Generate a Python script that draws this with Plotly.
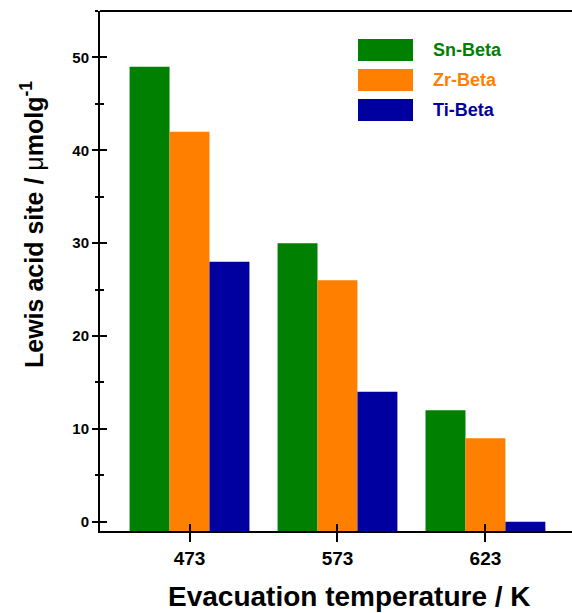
import plotly.graph_objects as go

# Evacuation temperatures (K) and Lewis acid site amounts (umol/g)
temperatures = ["473", "573", "623"]
sn_beta = [49, 30, 12]
zr_beta = [42, 26, 9]
ti_beta = [28, 14, 0]

series_names = ["Sn-Beta", "Zr-Beta", "Ti-Beta"]
series_values = [sn_beta, zr_beta, ti_beta]
series_colors = ["#008000", "#FF8000", "#0000A0"]

Y_MIN, Y_MAX = -1.0, 55.0
X_RANGE = [-0.605, 2.585]

W, H = 572, 613
M_L, M_R, M_T, M_B = 100, 0, 11, 82
PW, PH = W - M_L - M_R, H - M_T - M_B


def px_x(px):
    return (px - M_L) / PW


def px_y(py):
    return (H - M_B - py) / PH


FONT = "Liberation Sans, Arial, sans-serif"

fig = go.Figure()
for name, vals, col in zip(series_names, series_values, series_colors):
    fig.add_trace(go.Bar(
        x=temperatures,
        y=[v - Y_MIN for v in vals],
        base=Y_MIN,
        name=name,
        marker=dict(color=col, line=dict(width=0)),
        showlegend=False,
    ))

# empty trace so the overlay axes (inner tick halves) are drawn
fig.add_trace(go.Scatter(x=[], y=[], xaxis="x2", yaxis="y2", showlegend=False))

axis_common = dict(showgrid=False, zeroline=False, linecolor="black", linewidth=2,
                   tickcolor="black", tickwidth=2)

fig.update_layout(
    width=W, height=H,
    margin=dict(l=M_L, r=M_R, t=M_T, b=M_B),
    plot_bgcolor="white", paper_bgcolor="white",
    barmode="group", bargap=0.19, bargroupgap=0,
    xaxis=dict(type="category", range=X_RANGE, showline=True, ticks="outside",
               ticklen=9, ticklabelstandoff=0,
               tickfont=dict(family=FONT, size=19, color="black", weight="bold"),
               **axis_common),
    yaxis=dict(range=[Y_MIN, Y_MAX], showline=True, ticks="outside", ticklen=6,
               tickvals=[0, 10, 20, 30, 40, 50],
               minor=dict(tickvals=[5, 15, 25, 35, 45, 55], ticks="outside",
                          ticklen=3, tickwidth=2, tickcolor="black"),
               tickfont=dict(family=FONT, size=15, color="black", weight="bold"),
               **axis_common),
    xaxis2=dict(overlaying="x", anchor="y2", range=X_RANGE, tickvals=[0, 1, 2],
                ticks="inside", ticklen=7, showticklabels=False, showline=False,
                showgrid=False, zeroline=False, tickcolor="black", tickwidth=2),
    yaxis2=dict(overlaying="y", anchor="x2", range=[Y_MIN, Y_MAX],
                tickvals=[0, 10, 20, 30, 40, 50], ticks="inside", ticklen=7,
                minor=dict(tickvals=[5, 15, 25, 35, 45, 55], ticks="inside",
                           ticklen=4, tickwidth=2, tickcolor="black"),
                showticklabels=False, showline=False, showgrid=False,
                zeroline=False, tickcolor="black", tickwidth=2),
    showlegend=False,
)

# top frame line
fig.add_shape(type="line", xref="paper", yref="paper", x0=0, x1=1, y0=1, y1=1,
              line=dict(color="black", width=2))

# axis titles
fig.add_annotation(text="Evacuation temperature / K", xref="paper", yref="paper",
                   x=px_x(349), y=px_y(596), xanchor="center", yanchor="middle",
                   showarrow=False,
                   font=dict(family=FONT, size=28, color="black", weight="bold"))
fig.add_annotation(
    text="Lewis acid site / <span style='font-weight:normal'>\u03bc</span>molg"
         "<sup>-1</sup>",
    xref="paper", yref="paper", x=px_x(32), y=px_y(225), textangle=-90,
    xanchor="center", yanchor="middle", showarrow=False,
    font=dict(family=FONT, size=25, color="black", weight="bold"))

# legend: swatches and coloured labels
swatch_tops = [39, 69, 99]
for name, col, top in zip(series_names, series_colors, swatch_tops):
    fig.add_shape(type="rect", xref="paper", yref="paper",
                  x0=px_x(358), x1=px_x(413), y0=px_y(top + 22), y1=px_y(top),
                  fillcolor=col, line=dict(width=0))
    fig.add_annotation(text=name, xref="paper", yref="paper", x=px_x(431),
                       y=px_y(top + 11), xanchor="left", yanchor="middle",
                       showarrow=False,
                       font=dict(family=FONT, size=18, color=col, weight="bold"))

fig.write_html("out.html")
